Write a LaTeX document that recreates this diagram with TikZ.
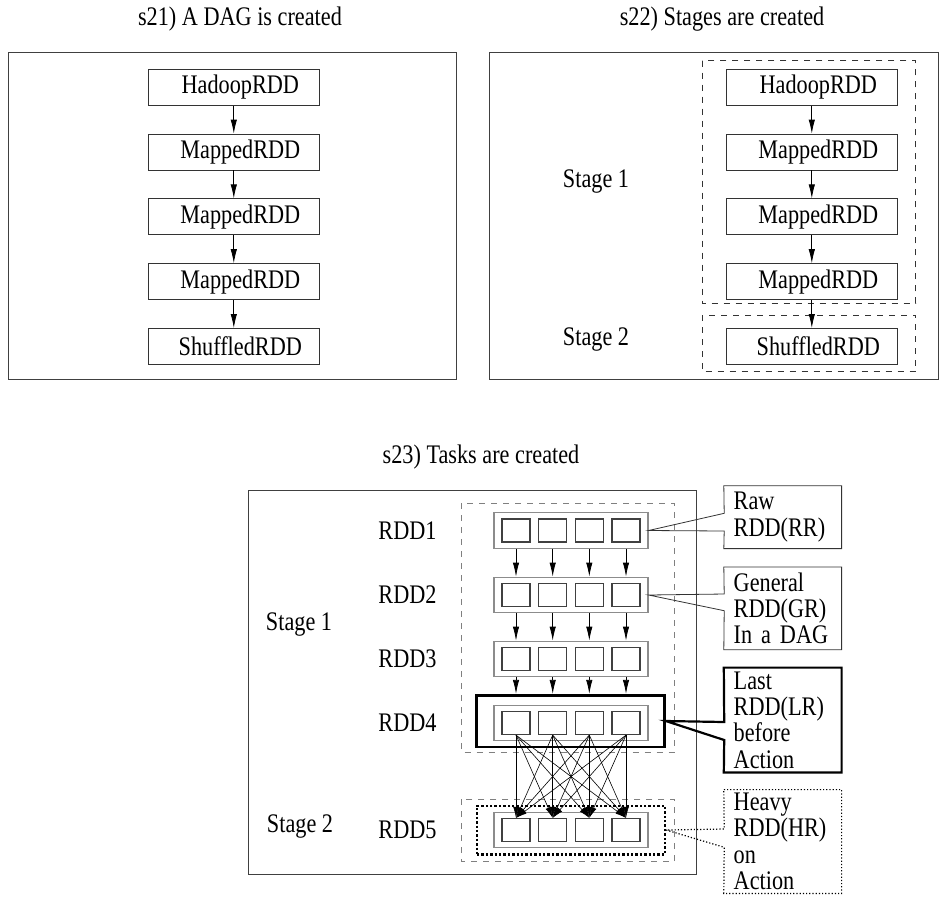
\documentclass[tikz,border=0pt]{standalone}
\usepackage{fontspec}
\setmainfont[FakeStretch=0.83]{Liberation Serif}
\usetikzlibrary{positioning,arrows.meta}

\begin{document}
\begin{tikzpicture}[
    x=0.5pt, y=-0.5pt,
    node distance=14pt,
    font=\fontsize{13.4}{13.2}\selectfont,
    rddbox/.style={
        rectangle, draw=black!80,
        minimum width=85.5pt, minimum height=18pt, inner sep=0pt,
        execute at begin node={\hspace*{6.5pt}}
    },
    rowbox/.style={
        rectangle, draw=black!45, semithick,
        minimum width=77pt, minimum height=17.8pt, inner sep=0pt
    },
    cell/.style={
        rectangle, draw=black!75, semithick, fill=white,
        minimum width=14pt, minimum height=11.5pt, inner sep=0pt
    },
    callout/.style={
        text width=49pt, align=left, inner xsep=4.75pt, inner ysep=0pt,
        minimum width=58.5pt
    },
    frame/.style={draw=black!75},
    stagebox/.style={draw=black!50, dashed},
    arr/.style={-{Latex[length=7pt,width=3.2pt]}, black},
    xarr/.style={-{Latex[length=5.5pt,width=2.8pt]}, black, line width=0.3pt}
]
\useasboundingbox (0,0) rectangle (940,900);

%% s21) DAG
\node (T1) at (240,19) {s21) A DAG is created};
\draw[frame] (8.3,52.7) rectangle (456,379.3);

\node[rddbox] (A1) at (233.8,87.2) {HadoopRDD};
\node[rddbox, below=of A1] (A2) {MappedRDD};
\node[rddbox, below=of A2] (A3) {MappedRDD};
\node[rddbox, below=of A3] (A4) {MappedRDD};
\node[rddbox, below=of A4] (A5) {ShuffledRDD};

\draw[arr] (A1.south) -- (A2.north);
\draw[arr] (A2.south) -- (A3.north);
\draw[arr] (A3.south) -- (A4.north);
\draw[arr] (A4.south) -- (A5.north);

%% s22) Stages
\node (T2) at (722,19) {s22) Stages are created};
\draw[frame] (489.3,52.7) rectangle (938.3,379.3);
\draw[dashed, draw=black!80] (702.3,60.7) rectangle (915.7,303.3);
\draw[dashed, draw=black!80] (702.3,315) rectangle (915.7,371.7);

\node[rddbox] (B1) at (811.8,87.2) {HadoopRDD};
\node[rddbox, below=of B1] (B2) {MappedRDD};
\node[rddbox, below=of B2] (B3) {MappedRDD};
\node[rddbox, below=of B3] (B4) {MappedRDD};
\node[rddbox, below=of B4] (B5) {ShuffledRDD};

\node (S1) at (596,181.7) {Stage 1};
\node (S2) at (596,340) {Stage 2};

\draw[arr] (B1.south) -- (B2.north);
\draw[arr] (B2.south) -- (B3.north);
\draw[arr] (B3.south) -- (B4.north);
\draw[arr] (B4.south) -- (B5.north);

%% s23) Tasks
\node (T3) at (481,456.7) {s23) Tasks are created};
\draw[frame] (248.3,490.7) rectangle (696.7,874.3);
\draw[stagebox] (461.7,503.3) rectangle (674.3,752.3);
\draw[stagebox] (461.7,799) rectangle (674.3,861.7);

\node (U1) at (299,625) {Stage 1};
\node (U2) at (300,826.7) {Stage 2};

%% outer boxes of RDD4 and RDD5
\node[draw, line width=1.3pt, minimum width=94pt, minimum height=25.8pt, inner sep=0pt]
    (R4o) at (570.5,721) {};
\node[draw, densely dotted, line width=1.2pt, minimum width=94pt, minimum height=24.3pt, inner sep=0pt]
    (R5o) at (571,830) {};

%% rows of tasks
\foreach \r/\y in {1/530.5,2/595,3/659,4/723,5/830} {
    \node (L\r) at (407.5,\y) {RDD\r};
    \node[rowbox] (R\r) at (571,\y) {};
    \foreach \c/\x in {1/516,2/552.7,3/589.3,4/626}
        \node[cell] (C\r\c) at (\x,\y) {};
}

%% narrow dependencies
\foreach \c in {1,...,4} {
    \draw[arr] (C1\c |- R1.south) -- (C1\c |- R2.north);
    \draw[arr] (C2\c |- R2.south) -- (C2\c |- R3.north);
    \draw[arr] (C3\c |- R3.south) -- (C3\c |- R4o.north);
}

%% shuffle dependencies
\foreach \c in {1,...,4}
    \foreach \d in {1,...,4}
        \draw[xarr] (C4\c.south) -- (C5\d.north);

%% callouts
\node[callout, minimum height=31pt] (RR) at (782.7,517.2) {Raw\\RDD(RR)};
\node[callout, minimum height=41pt] (GR) at (782.7,608.3) {General\\RDD(GR)\\In a DAG};
\node[callout, minimum height=52pt] (LR) at (782.7,720) {Last\\RDD(LR)\\before\\Action};
\node[callout, minimum height=51.5pt] (HR) at (782.7,841.5) {Heavy\\RDD(HR)\\on\\Action};

\coordinate (rrA) at (724.2,531);
\coordinate (rrB) at (724.2,513.3);
\coordinate (grA) at (724.2,610.7);
\coordinate (grB) at (724.2,594);
\coordinate (lrA) at (724.2,740);
\coordinate (lrB) at (724.2,722);
\coordinate (hrA) at (724.2,847.3);
\coordinate (hrB) at (724.2,829);

\draw[black!80] (RR.north west) -- (RR.north east) -- (RR.south east) -- (RR.south west)
    -- (rrA) -- (R1.east) -- (rrB) -- cycle;
\draw[black!80] (GR.north west) -- (GR.north east) -- (GR.south east) -- (GR.south west)
    -- (grA) -- (R2.east) -- (grB) -- cycle;
\draw[line width=1.1pt] (LR.north west) -- (LR.north east) -- (LR.south east) -- (LR.south west)
    -- (lrA) -- (R4o.east) -- (lrB) -- cycle;
\draw[densely dotted, semithick] (HR.north west) -- (HR.north east) -- (HR.south east) -- (HR.south west)
    -- (hrA) -- (R5o.east) -- (hrB) -- cycle;

\end{tikzpicture}
\end{document}
